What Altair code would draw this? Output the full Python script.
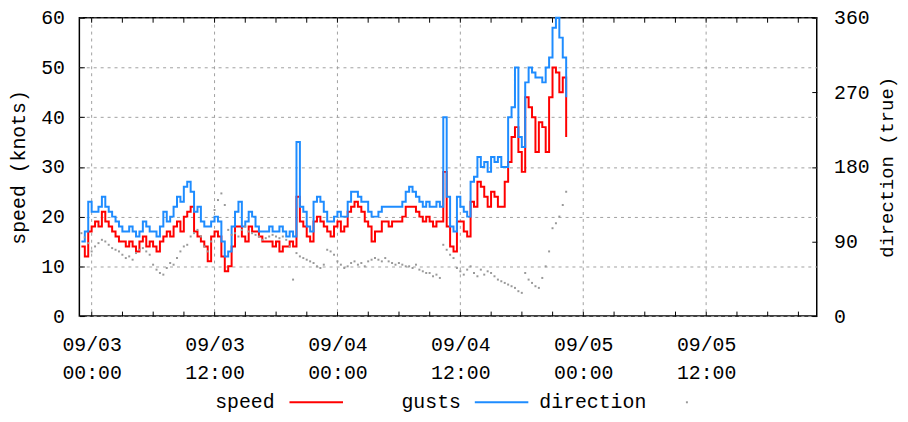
import altair as alt
import pandas as pd

FONT = "Liberation Mono"

# 20-minute samples starting 09/02 23:00
start_time = "2008-09-02 23:00"
step = "20min"

speed = [14, 12, 17, 18, 19, 18, 21, 19, 18, 17, 16, 15, 15, 14, 15, 14, 13, 15,
         16, 14, 15, 14, 13, 15, 16, 17, 16, 18, 19, 17, 20, 21, 22, 17, 16, 15,
         14, 11, 16, 17, 16, 12, 9, 10, 14, 18, 18, 16, 15, 18, 17, 17, 16, 15,
         15, 15, 14, 15, 13, 14, 14, 15, 14, 24, 19, 18, 16, 15, 19, 20, 19, 18,
         17, 16, 18, 19, 17, 18, 21, 22, 23, 22, 21, 19, 18, 15, 17, 17, 19, 19,
         18, 19, 19, 19, 20, 22, 22, 22, 21, 20, 19, 20, 19, 18, 19, 19, 29, 18,
         14, 13, 19, 19, 17, 16, 23, 22, 27, 26, 24, 22, 25, 24, 22, 22, 27, 31,
         36, 38, 33, 29, 44, 42, 40, 33, 39, 38, 33, 44, 50, 49, 45, 48, 36]

gusts = [15, 17, 23, 21, 21, 22, 24, 22, 21, 20, 19, 18, 17, 17, 18, 17, 16, 17,
         19, 18, 17, 17, 16, 18, 21, 19, 20, 22, 24, 23, 26, 27, 25, 21, 22, 19,
         18, 18, 19, 20, 19, 15, 12, 13, 18, 21, 23, 18, 19, 21, 20, 18, 17, 17,
         17, 18, 17, 17, 18, 17, 16, 17, 16, 35, 22, 21, 18, 17, 23, 24, 23, 21,
         19, 19, 20, 21, 20, 20, 23, 25, 25, 24, 23, 23, 21, 20, 20, 21, 22, 22,
         22, 22, 22, 22, 23, 25, 26, 25, 24, 23, 22, 23, 22, 22, 23, 22, 40, 24,
         18, 17, 24, 22, 21, 20, 27, 28, 32, 30, 31, 29, 32, 31, 32, 30, 30, 40,
         42, 50, 36, 34, 47, 50, 49, 48, 48, 47, 50, 52, 58, 60, 56, 52, 44]

direction = [100, 95, 88, 78, 84, 88, 92, 90, 86, 82, 80, 78, 74, 70, 72, 68, 76, 80,
             82, 78, 74, 62, 56, 52, 50, 58, 64, 62, 70, 78, 84, 86, 96, 100, 104, 96,
             84, 78, 90, 128, 140, 148, 134, 104, 98, 100, 96, 104, 108, 102, 100, 98, 96, 92,
             94, 96, 98, 96, 94, 96, 92, 84, 44, 76, 72, 70, 68, 66, 64, 60, 58, 62,
             80, 78, 74, 66, 62, 58, 60, 64, 66, 62, 64, 60, 66, 68, 70, 68, 66, 70,
             66, 64, 62, 64, 62, 60, 60, 58, 62, 56, 54, 52, 52, 48, 50, 46, 86, 80,
             74, 70, 58, 54, 50, 56, 60, 52, 48, 56, 50, 54, 52, 48, 44, 42, 40, 38,
             36, 34, 30, 28, 52, 44, 40, 36, 34, 46, 60, 78, 106, 112, 120, 134, 150]

speed_ticks = [0, 10, 20, 30, 40, 50, 60]
direction_ticks = [0, 90, 180, 270, 360]
time_ticks = pd.date_range("2008-09-03 00:00", "2008-09-05 21:00", freq="3h")
grid_times = pd.date_range("2008-09-03 00:00", "2008-09-05 12:00", freq="12h")
legend_labels = ["speed", "gusts", "direction"]
colors = {"speed": "#ff0000", "gusts": "#1e8cff", "direction": "#999999"}

times = pd.date_range(start_time, periods=len(speed), freq=step)
df = pd.DataFrame({
    "time": times.strftime("%Y-%m-%dT%H:%M:%S"),
    "speed": speed,
    "gusts": gusts,
    "direction": direction,
})
grid_df = pd.DataFrame({"time": grid_times.strftime("%Y-%m-%dT%H:%M:%S")})
tick_df = pd.DataFrame({"time": time_ticks.strftime("%Y-%m-%dT%H:%M:%S")})

def dt(ts):
    return alt.DateTime(year=ts.year, month=ts.month, date=ts.day, hours=ts.hour, minutes=ts.minute)

x_scale = alt.Scale(
    domain=[alt.DateTime(year=2008, month=9, date=2, hours=22, minutes=48),
            alt.DateTime(year=2008, month=9, date=5, hours=22, minutes=48)],
    nice=False,
)
GRIDSTYLE = dict(gridColor="#a0a0a0", gridDash=[3, 4], gridWidth=1)

x_bottom = alt.Axis(
    orient="bottom", offset=-5, tickSize=5, tickColor="black", tickWidth=1,
    values=[dt(t) for t in time_ticks], domain=False, title=None, grid=False,
    labelExpr="hours(datum.value) % 12 == 0 ? [timeFormat(datum.value, '%m/%d'), timeFormat(datum.value, '%H:%M')] : ''",
    labelFont=FONT, labelFontSize=20, labelColor="black", labelPadding=19,
    labelLineHeight=28, labelOverlap=False, labelFlush=False,
)
y_left = alt.Axis(
    orient="left", values=speed_ticks, offset=-5, tickSize=5, tickColor="black",
    domain=False, labelFont=FONT, labelFontSize=20, labelColor="black", labelPadding=15,
    title="speed (knots)", titleFont=FONT, titleFontSize=20, titleFontWeight="normal",
    titleColor="black", titlePadding=12, grid=True, **GRIDSTYLE,
)
y_right = alt.Axis(
    orient="right", values=direction_ticks, offset=-5, tickSize=5, tickColor="black",
    domain=False, grid=False, labelFont=FONT, labelFontSize=20, labelColor="black",
    labelPadding=17, title="direction (true)", titleFont=FONT, titleFontSize=19,
    titleFontWeight="normal", titleColor="black", titleAngle=270, titlePadding=27,
)

base = alt.Chart(df)
speed_scale = alt.Scale(domain=[0, 60], nice=False)
X = alt.X("time:T", scale=x_scale, axis=x_bottom)

vgrid = alt.Chart(grid_df).mark_rule(color="#a0a0a0", strokeDash=[3, 4], strokeWidth=1).encode(x=X)
# mirrored inward ticks along the top border
top_ticks = alt.Chart(tick_df).mark_rule(color="black", strokeWidth=1).encode(
    x=X, y=alt.value(0), y2=alt.value(5))
speed_line = base.mark_line(interpolate="step-after", strokeWidth=2, color=colors["speed"]).encode(
    x=X, y=alt.Y("speed:Q", scale=speed_scale, axis=y_left),
)
gust_line = base.mark_line(interpolate="step-after", strokeWidth=2, color=colors["gusts"]).encode(
    x=X, y=alt.Y("gusts:Q", scale=speed_scale, axis=None),
)
dir_points = base.mark_square(size=4, opacity=1, color=colors["direction"]).encode(
    x=X, y=alt.Y("direction:Q", scale=alt.Scale(domain=[0, 360], nice=False), axis=y_right),
)

# legend (label followed by sample), placed below the plot
leg_df = pd.DataFrame({"label": legend_labels})
LY = 388
def leg_text(i, xr):
    return alt.Chart(leg_df.iloc[[i]]).mark_text(
        align="right", baseline="middle", font=FONT, fontSize=20, color="black"
    ).encode(text="label:N", x=alt.value(xr), y=alt.value(LY))

legend = [
    leg_text(0, 197),
    alt.Chart(leg_df.iloc[[0]]).mark_rule(color=colors["speed"], strokeWidth=2).encode(
        x=alt.value(212), x2=alt.value(266), y=alt.value(LY)),
    leg_text(1, 385),
    alt.Chart(leg_df.iloc[[1]]).mark_rule(color=colors["gusts"], strokeWidth=2).encode(
        x=alt.value(399), x2=alt.value(453), y=alt.value(LY)),
    leg_text(2, 572),
    alt.Chart(leg_df.iloc[[2]]).mark_square(color=colors["direction"], size=4, opacity=1).encode(
        x=alt.value(613), y=alt.value(LY)),
]

chart = alt.layer(
    vgrid, top_ticks, speed_line, gust_line, dir_points, *legend,
).resolve_scale(y="independent").properties(
    width=744, height=301,
    autosize=alt.AutoSizeParams(type="none"),
    padding={"left": 72, "top": 8, "right": 84, "bottom": 97},
    background="white",
).configure_view(stroke="black", strokeWidth=1.5)

chart.save("out.html", embed_options={"renderer": "svg", "actions": False})
